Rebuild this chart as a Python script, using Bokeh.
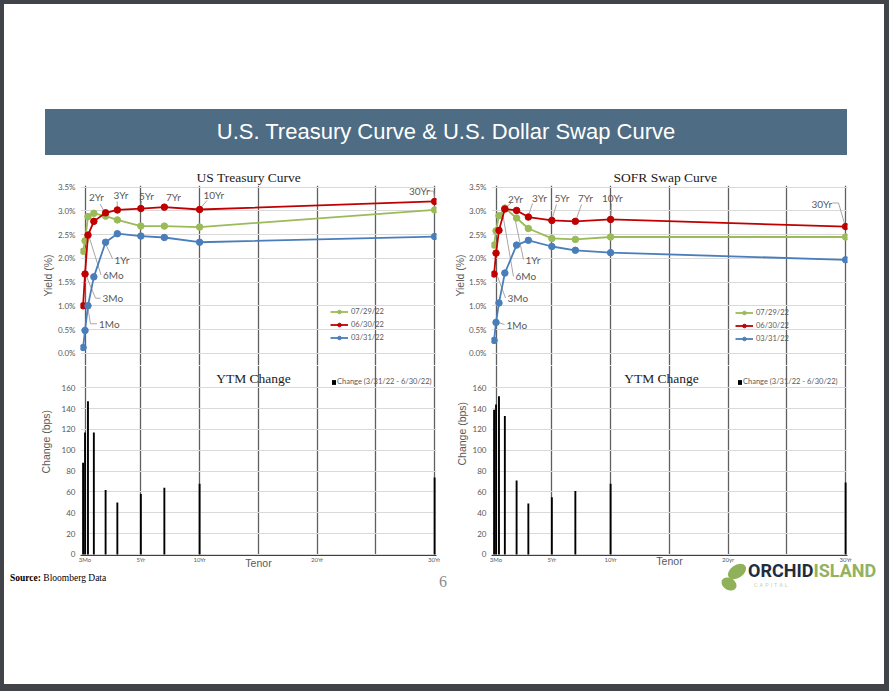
import math
from bokeh.plotting import figure
from bokeh.layouts import column, row
from bokeh.models import (FixedTicker, Legend, LegendItem, Label, Div, Spacer, Title,
                          PrintfTickFormatter, Range1d, ColumnDataSource)
from bokeh.embed import file_html
from bokeh.resources import INLINE
from bokeh.core.properties import value

# ---------------- data ----------------
tenor_names = ["1Mo", "3Mo", "6Mo", "1Yr", "2Yr", "3Yr", "5Yr", "7Yr", "10Yr", "30Yr"]
tenor_years = [1 / 12, 0.25, 0.5, 1, 2, 3, 5, 7, 10, 30]
series_dates = ["07/29/22", "06/30/22", "03/31/22"]

ust_0729 = [2.15, 2.37, 2.88, 2.95, 2.89, 2.81, 2.68, 2.68, 2.66, 3.02]
ust_0630 = [1.00, 1.67, 2.49, 2.78, 2.96, 3.02, 3.05, 3.08, 3.03, 3.20]
ust_0331 = [0.12, 0.48, 1.00, 1.61, 2.34, 2.52, 2.47, 2.44, 2.34, 2.46]
ust_change = [88, 117, 147, 117, 62, 50, 58, 64, 68, 74]

sofr_0729 = [2.28, 2.58, 2.90, 3.06, 2.85, 2.63, 2.42, 2.40, 2.45, 2.45]
sofr_0630 = [1.67, 2.11, 2.59, 3.04, 3.01, 2.87, 2.80, 2.78, 2.82, 2.67]
sofr_0331 = [0.27, 0.65, 1.06, 1.69, 2.28, 2.38, 2.25, 2.17, 2.12, 1.97]
sofr_change = [139, 144, 152, 133, 71, 49, 55, 61, 68, 69]

change_label = "Change (3/31/22 - 6/30/22)"
yield_ticks = [0.0, 0.5, 1.0, 1.5, 2.0, 2.5, 3.0, 3.5]
change_ticks = [0, 20, 40, 60, 80, 100, 120, 140, 160]
tenor_ticks = [0.25, 5, 10, 15, 20, 25, 30]
ust_tick_labels = ["3Mo", "5Yr", "10Yr", "", "20Yr", "", "30Yr"]
sofr_tick_labels = ["3Mo", "5Yr", "10Yr", "", "20yr", "", "30Yr"]

# ---------------- style / geometry ----------------
GREEN, RED, BLUE = "#9bbb59", "#c00000", "#4a7ebb"
GREY_TXT = "#595959"
DARK_GRID = "#5f5f5f"
LIGHT_GRID = "#d9d9d9"
LEADER = "#a6a6a6"
DARK = "#404448"
FRAME_W, TOP_H, BOT_H = 356, 180, 190
BOT_BORDER = 26
X_RANGE = (-0.136, 30.16)
Y_RANGE = (-0.259, 3.536)
C_RANGE = (-0.96, 181.4)
PX_X = FRAME_W / (X_RANGE[1] - X_RANGE[0])
PX_Y = TOP_H / (Y_RANGE[1] - Y_RANGE[0])

# callouts: (label, anchor index on 06/30/22 series, text offset px, leader polyline offsets px)
ust_callouts = [
    ("1Mo", 0, (15.9, 18), [(13.9, 18), (7.4, 18), (4.9, 2.7)]),
    ("3Mo", 1, (17.5, 24.2), [(15.5, 24.2), (10.5, 24.2), (1.5, 2.5)]),
    ("6Mo", 2, (15, 39.7), [(13, 39.7), (1.5, 2.9)]),
    ("1Yr", 3, (20.65, 38.2), [(18.65, 37.2), (10.15, 19.2)]),
    ("2Yr", 4, (-16.6, -15.6), [(-5.6, -8.8), (-1.6, -1.8)]),
    ("3Yr", 5, (-3.85, -14.5), [(-0.15, -8.5), (-0.05, -2.5)]),
    ("5Yr", 6, (-1.85, -13), [(0.65, -7.5), (0.15, -2.5)]),
    ("7Yr", 7, (1.65, -10.6), []),
    ("10Yr", 8, (3.9, -15), [(7.4, -9), (1.4, -2)]),
    ("30Yr", 9, (-25.6, -10.2), [(-6.1, -10.4), (-1.1, -10.4), (-0.1, -2.9)]),
]
sofr_callouts = [
    ("1Mo", 0, (12.4, 50.5), [(10.4, 50.5), (4.4, 48.5)]),
    ("3Mo", 1, (11.5, 44.9), [(9.5, 44.9), (1.5, 23.4)]),
    ("6Mo", 2, (16.5, 46.1), [(14.5, 46.1), (3.5, -17.9)]),
    ("1Yr", 3, (20.65, 50.5), [(18.65, 50.5), (9.65, 7.5)]),
    ("2Yr", 4, (-8.6, -11.4), [(-5.6, -7.4), (-10.6, -2.9)]),
    ("3Yr", 5, (3.65, -19.1), [(4.15, -13.6), (0.65, -3.1)]),
    ("5Yr", 6, (2.65, -22.4), [(4.65, -15.9), (0.65, -2.9)]),
    ("7Yr", 7, (2.65, -23.3), [(6.15, -16.8), (1.15, -2.8)]),
    ("10Yr", 8, (-8.6, -21.4), [(0.9, -15.9), (0.4, -2.9)]),
    ("30Yr", 9, (-34.1, -22.6), [(-13.1, -23.6), (-7.1, -23.6), (-1.1, -3.1)]),
]


def style_axis(ax, size):
    ax.axis_line_color = None
    ax.major_tick_line_color = None
    ax.minor_tick_line_color = None
    ax.major_tick_out = 0
    ax.major_tick_in = 0
    ax.minor_tick_out = 0
    ax.minor_tick_in = 0
    ax.major_label_text_font = "Lato"
    ax.major_label_text_font_size = size
    ax.major_label_text_color = GREY_TXT


def axis_title(ax, text, standoff):
    ax.axis_label = text
    ax.axis_label_standoff = standoff
    ax.axis_label_text_font = "Liberation Sans"
    ax.axis_label_text_font_size = "10.5px"
    ax.axis_label_text_font_style = "normal"
    ax.axis_label_text_color = GREY_TXT


def make_column(title, s_new, s_mid, s_old, change, tick_labels, callouts,
                b_left, b_right, geo):
    # ---------- yield panel ----------
    top = figure(frame_width=FRAME_W, frame_height=TOP_H,
                 x_range=Range1d(*X_RANGE), y_range=Range1d(*Y_RANGE),
                 x_axis_location=None, output_backend="svg", toolbar_location=None,
                 min_border_left=b_left, min_border_right=b_right,
                 min_border_top=30, min_border_bottom=0,
                 outline_line_color=None, border_fill_color="white")
    top.title = Title(text=title, align="left", offset=geo["title_off"], standoff=2,
                      text_font="Liberation Serif", text_font_size="13.5px",
                      text_font_style="normal", text_color="#1a1a1a")
    top.xgrid.ticker = FixedTicker(ticks=tenor_ticks)
    top.xgrid.grid_line_color = DARK_GRID
    top.xgrid.grid_line_width = 1.3
    top.yaxis.ticker = FixedTicker(ticks=yield_ticks)
    top.ygrid.ticker = FixedTicker(ticks=yield_ticks)
    top.yaxis.formatter = PrintfTickFormatter(format="%.1f%%")
    top.yaxis.major_label_standoff = 5
    top.ygrid.grid_line_color = LIGHT_GRID
    style_axis(top.yaxis, "8px")
    axis_title(top.yaxis, "Yield (%)", geo["ylab_standoff"])

    # leaders
    xs, ys = [], []
    for lab, i, (tx, ty), pts in callouts:
        if pts:
            xs.append([tenor_years[i] + dx / PX_X for dx, dy in pts])
            ys.append([s_mid[i] - dy / PX_Y for dx, dy in pts])
    top.multi_line(xs, ys, line_color=LEADER, line_width=1)

    items = []
    for vals, col, lab in zip([s_new, s_mid, s_old], [GREEN, RED, BLUE], series_dates):
        lr = top.line(tenor_years, vals, line_color=col, line_width=1.8)
        sr = top.scatter(tenor_years, vals, size=6.5, marker="circle",
                         fill_color=col, line_color=col)
        items.append(LegendItem(label=lab, renderers=[lr, sr]))
    leg = Legend(items=items, location=geo["leg"], orientation="vertical",
                 glyph_width=18, glyph_height=9, label_height=9, spacing=4,
                 label_standoff=3, padding=0, margin=0, border_line_color=None,
                 background_fill_alpha=0, label_text_font="Lato",
                 label_text_font_size="7.5px", label_text_color=GREY_TXT)
    top.add_layout(leg)

    src = ColumnDataSource(dict(
        x=[tenor_years[c[1]] for c in callouts],
        y=[s_mid[c[1]] for c in callouts],
        t=[c[0] for c in callouts],
        dx=[c[2][0] for c in callouts],
        dy=[c[2][1] for c in callouts]))
    top.text(x="x", y="y", text="t", x_offset="dx", y_offset="dy", source=src,
             text_font=value("Lato"), text_font_size="10px", text_color=GREY_TXT,
             text_align="left", text_baseline="middle")

    # ---------- change panel ----------
    bot = figure(frame_width=FRAME_W, frame_height=BOT_H,
                 x_range=top.x_range, y_range=Range1d(*C_RANGE),
                 output_backend="svg", toolbar_location=None,
                 min_border_left=b_left, min_border_right=b_right,
                 min_border_top=0, min_border_bottom=BOT_BORDER,
                 outline_line_color=None, border_fill_color="white")
    bot.xaxis.ticker = FixedTicker(ticks=tenor_ticks)
    bot.xgrid.ticker = FixedTicker(ticks=tenor_ticks)
    bot.xaxis.major_label_overrides = dict(zip(tenor_ticks, tick_labels))
    bot.xgrid.grid_line_color = DARK_GRID
    bot.xgrid.grid_line_width = 1.3
    bot.yaxis.ticker = FixedTicker(ticks=change_ticks)
    bot.ygrid.ticker = FixedTicker(ticks=change_ticks)
    bot.yaxis.major_label_standoff = 5
    bot.ygrid.grid_line_color = LIGHT_GRID
    style_axis(bot.yaxis, "8px")
    style_axis(bot.xaxis, "6px")
    bot.xaxis.axis_line_color = "#404040"
    bot.xaxis.major_label_standoff = 0
    axis_title(bot.xaxis, "Tenor", geo["tenor_standoff"])
    bot.add_layout(Title(text="Change (bps)", align="left", offset=geo["clab_off"],
                         standoff=geo["clab_standoff"], text_font="Liberation Sans",
                         text_font_size="10.5px", text_font_style="normal",
                         text_color=GREY_TXT), "left")

    vr = bot.vbar(x=tenor_years, top=change, width=0.16, fill_color="black", line_color=None)
    leg2 = Legend(items=[LegendItem(label=change_label, renderers=[vr])],
                  location=geo["leg2"], glyph_width=5, glyph_height=6, label_height=7,
                  label_standoff=1, padding=0, margin=0, border_line_color=None,
                  background_fill_alpha=0, label_text_font="Lato",
                  label_text_font_size="7.5px", label_text_color=GREY_TXT)
    bot.add_layout(leg2)
    bot.add_layout(Label(x=geo["ytm_x"], y=177, x_units="screen", y_units="screen",
                         text="YTM Change", text_align="center", text_baseline="middle",
                         text_font="Liberation Serif", text_font_size="13.5px",
                         text_color="#1a1a1a"))
    return column(top, bot, spacing=0)


left = make_column("US Treasury Curve", ust_0729, ust_0630, ust_0331, ust_change,
                   ust_tick_labels, ust_callouts, 76, 4,
                   dict(leg=(250, 23.5), leg2=(251, 169), title_off=116, ylab_standoff=1,
                        ytm_x=173, clab_off=82, clab_standoff=14, tenor_standoff=-9))
right = make_column("SOFR Swap Curve", sofr_0729, sofr_0630, sofr_0331, sofr_change,
                    sofr_tick_labels, sofr_callouts, 51, 37,
                    dict(leg=(244, 22), leg2=(246, 169), title_off=122, ylab_standoff=0,
                         ytm_x=170, clab_off=90, clab_standoff=4, tenor_standoff=-11))


def block(w, h, color):
    return Div(text="", width=w, height=h, margin=0, styles={"background-color": color})


banner = Div(text=('<div style="width:802px;height:46px;line-height:46px;text-align:center;'
                   'background:#4e6c84;color:#ffffff;font-family:\'Liberation Sans\';font-size:22px;">'
                   'U.S. Treasury Curve &amp; U.S. Dollar Swap Curve</div>'),
             width=802, height=46, margin=0)

CHART_H = 30 + TOP_H + BOT_H + BOT_BORDER
FOOT_H = 680 - 105 - 46 - CHART_H

footer = Div(text=(
    '<div style="position:relative;width:880px;height:%dpx;">'
    '<div style="position:absolute;left:6px;top:-9px;font-family:\'Liberation Serif\';'
    'font-size:9.5px;color:#000;white-space:nowrap;"><b>Source:</b> Bloomberg Data</div>'
    '<div style="position:absolute;left:435px;top:-10px;font-family:\'Liberation Serif\';'
    'font-size:16px;color:#8c8c8c;">6</div>'
    '<div style="position:absolute;left:723px;top:-16px;width:20px;height:13px;border-radius:50%%;'
    'background:#8fb15a;transform:rotate(-35deg);"></div>'
    '<div style="position:absolute;left:717px;top:-3px;width:16px;height:12px;border-radius:50%%;'
    'background:#8fb15a;transform:rotate(30deg);"></div>'
    '<div style="position:absolute;left:744px;top:-18px;font-family:Roboto;font-weight:bold;'
    'font-size:18px;line-height:16px;white-space:nowrap;">'
    '<span style="color:#1e2d3d;">ORCHID</span><span style="color:#93b260;">ISLAND</span></div>'
    '<div style="position:absolute;left:750px;top:1px;font-family:Roboto;font-size:5.5px;'
    'line-height:6px;letter-spacing:2px;color:#c3d4a5;">CAPITAL</div>'
    '</div>') % FOOT_H, width=880, height=FOOT_H, margin=0)

page = column(Spacer(width=880, height=105, margin=0),
              row(Spacer(width=41, height=46, margin=0), banner, spacing=0),
              row(left, right, spacing=0),
              footer, spacing=0)

p = column(block(889, 4, DARK),
           row(block(4, 680, DARK), page, block(5, 680, DARK), spacing=0),
           block(889, 7, DARK), spacing=0)

open("out.html", "w").write(file_html(p, INLINE))
